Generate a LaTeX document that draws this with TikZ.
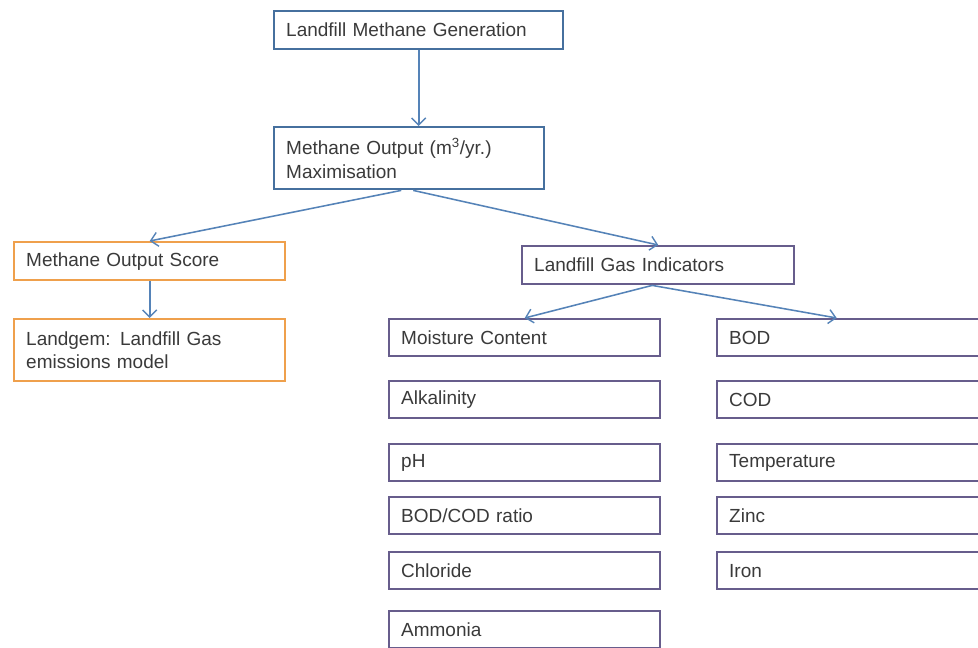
\documentclass[tikz,border=0pt]{standalone}
\usepackage{fontspec}
\setmainfont{Liberation Sans}
\usepackage{tikz}
\usetikzlibrary{shapes, arrows.meta, positioning, calc}
\definecolor{boxblue}{HTML}{46709E}
\definecolor{boxorange}{HTML}{EFA04C}
\definecolor{boxpurple}{HTML}{675D8C}
\definecolor{linkblue}{HTML}{5583B8}
\definecolor{txt}{HTML}{3A3A3A}
\tikzset{
  box/.style={rectangle, draw, line width=1.7pt, anchor=north west, align=left, inner xsep=0.3cm, inner ysep=0pt, text=txt, font=\fontsize{13.5}{16.5}\selectfont},
  genbox/.style={box, draw=boxblue},
  scorebox/.style={box, draw=boxorange},
  indbox/.style={box, draw=boxpurple, text width=6.175cm, minimum height=0.925cm},
  link/.style={-{Straight Barb[length=5pt, width=10pt, line width=1pt]}, draw=linkblue, line width=1.1pt}
}
\begin{document}
\begin{tikzpicture}[x=0.025cm, y=-0.025cm]
\useasboundingbox (0,0) rectangle (978,648);
\clip (0,0) rectangle (978,648);
\fill [white] (0,0) rectangle (978,648);
\node [genbox, text width=6.625cm, minimum height=0.95cm] (gen) at (273,10) {Landfill Methane Generation};
\node [genbox, text width=6.15cm, minimum height=1.55cm] (out) at (273,126) {Methane Output (m\textsuperscript{3}/yr.)\\Maximisation};
\node [scorebox, text width=6.175cm, minimum height=0.95cm] (score) at (13,241) {Methane Output Score};
\node [scorebox, text width=6.175cm, minimum height=1.55cm] (landgem) at (13,318) {Landgem: Landfill Gas\\emissions model};
\node [box, draw=boxpurple, text width=6.2cm, minimum height=0.95cm] (ind) at (521,245) {Landfill Gas Indicators};
\node [indbox] (moist) at (388,318) {Moisture Content};
\node [indbox] (alk) at (388,380) {Alkalinity};
\node [indbox] (ph) at (388,443) {pH};
\node [indbox] (ratio) at (388,496) {BOD/COD ratio};
\node [indbox] (chlor) at (388,551) {Chloride};
\node [indbox] (amm) at (388,610) {Ammonia};
\node [indbox] (bod) at (716,318) {BOD};
\node [indbox] (cod) at (716,380) {COD};
\node [indbox] (temp) at (716,443) {Temperature};
\node [indbox] (zinc) at (716,496) {Zinc};
\node [indbox] (iron) at (716,551) {Iron};
\draw [link] (gen.south) -- (gen.south |- out.north);
\draw [link] ([xshift=-0.2cm]out.south) -- (score.north);
\draw [link] ([xshift=0.1cm]out.south) -- (ind.north);
\draw [link] (score.south) -- (landgem.north);
\draw [link] ([xshift=-0.15cm]ind.south) -- (moist.north);
\draw [link] ([xshift=-0.15cm]ind.south) -- ([xshift=-0.4cm]bod.north);
\end{tikzpicture}
\end{document}
